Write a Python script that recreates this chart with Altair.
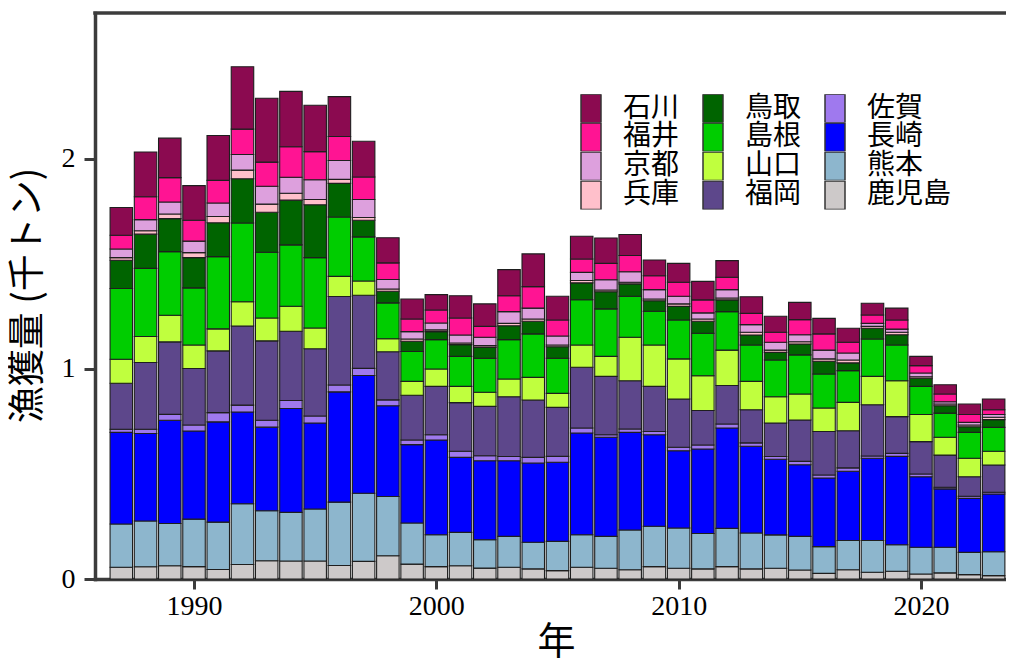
import altair as alt
import pandas as pd

years = list(range(1987, 2024))

# stacking order: bottom -> top
prefs_stack = ["鹿児島", "熊本", "長崎", "佐賀", "福岡", "山口", "島根", "鳥取", "兵庫", "京都", "福井", "石川"]

kagoshima = [0.056, 0.058, 0.063, 0.059, 0.045, 0.069, 0.087, 0.086, 0.086, 0.064, 0.084, 0.111, 0.071, 0.059, 0.063, 0.052, 0.056, 0.048, 0.040, 0.056, 0.051, 0.044, 0.059, 0.051, 0.048, 0.059, 0.048, 0.051, 0.043, 0.027, 0.044, 0.032, 0.037, 0.024, 0.029, 0.021, 0.016]
kumamoto = [0.206, 0.218, 0.201, 0.226, 0.226, 0.289, 0.238, 0.231, 0.247, 0.302, 0.324, 0.282, 0.196, 0.152, 0.159, 0.135, 0.147, 0.127, 0.139, 0.155, 0.152, 0.189, 0.192, 0.192, 0.169, 0.182, 0.171, 0.159, 0.160, 0.127, 0.139, 0.151, 0.126, 0.127, 0.122, 0.106, 0.114]
nagasaki = [0.436, 0.417, 0.492, 0.420, 0.477, 0.437, 0.398, 0.495, 0.410, 0.525, 0.561, 0.432, 0.373, 0.451, 0.357, 0.376, 0.360, 0.377, 0.377, 0.484, 0.472, 0.465, 0.436, 0.368, 0.402, 0.478, 0.413, 0.360, 0.341, 0.327, 0.330, 0.392, 0.421, 0.336, 0.278, 0.257, 0.275]
saga = [0.015, 0.020, 0.028, 0.028, 0.044, 0.033, 0.033, 0.038, 0.033, 0.033, 0.034, 0.028, 0.022, 0.025, 0.029, 0.024, 0.020, 0.027, 0.028, 0.024, 0.012, 0.016, 0.015, 0.016, 0.019, 0.019, 0.016, 0.013, 0.016, 0.014, 0.016, 0.011, 0.014, 0.013, 0.008, 0.010, 0.008]
fukuoka = [0.219, 0.318, 0.345, 0.269, 0.294, 0.377, 0.378, 0.330, 0.320, 0.421, 0.348, 0.229, 0.213, 0.230, 0.232, 0.235, 0.285, 0.273, 0.233, 0.289, 0.278, 0.230, 0.215, 0.230, 0.164, 0.183, 0.158, 0.160, 0.197, 0.207, 0.177, 0.244, 0.175, 0.154, 0.153, 0.093, 0.130]
yamaguchi = [0.114, 0.124, 0.127, 0.112, 0.105, 0.115, 0.109, 0.119, 0.099, 0.096, 0.068, 0.062, 0.066, 0.083, 0.077, 0.067, 0.084, 0.108, 0.067, 0.106, 0.095, 0.207, 0.197, 0.191, 0.166, 0.169, 0.135, 0.125, 0.124, 0.112, 0.135, 0.135, 0.171, 0.129, 0.085, 0.088, 0.065]
shimane = [0.337, 0.324, 0.303, 0.272, 0.344, 0.375, 0.313, 0.292, 0.335, 0.283, 0.210, 0.171, 0.142, 0.140, 0.143, 0.162, 0.188, 0.207, 0.167, 0.216, 0.226, 0.195, 0.161, 0.185, 0.202, 0.183, 0.173, 0.175, 0.186, 0.162, 0.151, 0.178, 0.170, 0.134, 0.115, 0.123, 0.114]
tottori = [0.135, 0.163, 0.157, 0.144, 0.161, 0.211, 0.190, 0.213, 0.252, 0.160, 0.079, 0.055, 0.049, 0.038, 0.056, 0.052, 0.066, 0.060, 0.055, 0.080, 0.082, 0.059, 0.050, 0.065, 0.057, 0.056, 0.048, 0.036, 0.052, 0.061, 0.037, 0.051, 0.049, 0.039, 0.035, 0.027, 0.037]
hyogo = [0.012, 0.016, 0.022, 0.024, 0.030, 0.041, 0.039, 0.033, 0.025, 0.019, 0.013, 0.011, 0.011, 0.008, 0.008, 0.008, 0.011, 0.011, 0.008, 0.011, 0.008, 0.008, 0.008, 0.012, 0.011, 0.009, 0.013, 0.011, 0.011, 0.011, 0.014, 0.009, 0.012, 0.007, 0.008, 0.008, 0.011]
kyoto = [0.041, 0.053, 0.057, 0.055, 0.064, 0.074, 0.085, 0.076, 0.094, 0.090, 0.086, 0.045, 0.035, 0.033, 0.038, 0.040, 0.056, 0.052, 0.043, 0.039, 0.049, 0.050, 0.045, 0.036, 0.029, 0.040, 0.036, 0.037, 0.033, 0.042, 0.033, 0.014, 0.015, 0.018, 0.011, 0.013, 0.013]
fukui = [0.066, 0.109, 0.116, 0.099, 0.108, 0.121, 0.115, 0.145, 0.134, 0.114, 0.107, 0.079, 0.060, 0.062, 0.081, 0.052, 0.076, 0.102, 0.076, 0.064, 0.078, 0.077, 0.066, 0.067, 0.062, 0.059, 0.054, 0.048, 0.072, 0.077, 0.051, 0.040, 0.043, 0.035, 0.037, 0.037, 0.023]
ishikawa = [0.132, 0.213, 0.188, 0.165, 0.214, 0.297, 0.304, 0.264, 0.221, 0.190, 0.170, 0.120, 0.095, 0.073, 0.106, 0.107, 0.124, 0.156, 0.113, 0.108, 0.121, 0.100, 0.075, 0.090, 0.088, 0.079, 0.079, 0.076, 0.082, 0.074, 0.067, 0.056, 0.057, 0.044, 0.044, 0.050, 0.051]

series = [kagoshima, kumamoto, nagasaki, saga, fukuoka, yamaguchi, shimane, tottori, hyogo, kyoto, fukui, ishikawa]

colors = {
    "石川": "#8B0A50", "福井": "#FF1493", "京都": "#DDA0DD", "兵庫": "#FFC0CB",
    "鳥取": "#006400", "島根": "#00CD00", "山口": "#C0FF3E", "福岡": "#5D478B",
    "佐賀": "#9F79EE", "長崎": "#0000FF", "熊本": "#8DB6CD", "鹿児島": "#CDC9C9",
}
# legend order (3 columns, filled column by column)
legend_order = ["石川", "福井", "京都", "兵庫", "鳥取", "島根", "山口", "福岡", "佐賀", "長崎", "熊本", "鹿児島"]

rows = []
for idx, (p, vals) in enumerate(zip(prefs_stack, series)):
    for y, v in zip(years, vals):
        rows.append({"year": y, "pref": p, "value": v, "idx": idx})
df = pd.DataFrame(rows)

frame = "#3c3c3c"

bars = alt.Chart(df).mark_bar(width=22.5, stroke="#1e1e1e", strokeWidth=1.1).encode(
    x=alt.X("year:Q",
            scale=alt.Scale(domain=[1986.12, 1986.12 + 911 / 24.5], nice=False, zero=False),
            axis=alt.Axis(values=[1990, 2000, 2010, 2020], format="d", title="年",
                          titleX=461, titleY=44, titleBaseline="top", titleAlign="center",
                          tickSize=10, labelPadding=3)),
    y=alt.Y("value:Q", stack="zero",
            scale=alt.Scale(domain=[0, 2.695], nice=False),
            axis=alt.Axis(values=[0, 1, 2], format="d", title="漁獲量 (千トン)",
                          titleX=-67, titleY=282, titleBaseline="middle", titleAlign="center",
                          tickSize=11, labelPadding=9)),
    color=alt.Color("pref:N",
                    scale=alt.Scale(domain=legend_order, range=[colors[p] for p in legend_order]),
                    legend=alt.Legend(title=None, orient="none", legendX=482, legendY=81,
                                      columns=3, columnPadding=19, rowPadding=0,
                                      clipHeight=28.5,
                                      symbolType="M-1,-1.425H1V1.425H-1Z", symbolSize=400,
                                      symbolStrokeColor="#333333", symbolStrokeWidth=1.5,
                                      labelFont="Noto Sans CJK JP", labelFontSize=28,
                                      labelOffset=18, labelColor="black", padding=0)),
    order=alt.Order("idx:Q", sort="ascending"),
)

top_line = alt.Chart(pd.DataFrame({"k": [0]})).mark_rule(
    color=frame, strokeWidth=3.5, strokeCap="square"
).encode(y=alt.value(0))

chart = alt.layer(bars, top_line).properties(
    width=911, height=566,
    autosize=alt.AutoSizeParams(type="none"),
    padding={"left": 87, "top": 5, "right": 0, "bottom": 100},
).configure_view(
    stroke=None
).configure_axis(
    domain=True, domainColor=frame, domainWidth=3.5, domainCap="square", grid=False,
    tickColor=frame, tickWidth=3,
    labelFont="Liberation Serif", labelFontSize=28, labelColor="black",
    titleFont="Noto Sans CJK JP", titleFontSize=37, titleFontWeight="normal", titleColor="black",
).configure_axisX(titleFontSize=38)

chart.save("out.html", embed_options={"renderer": "svg", "actions": False})
